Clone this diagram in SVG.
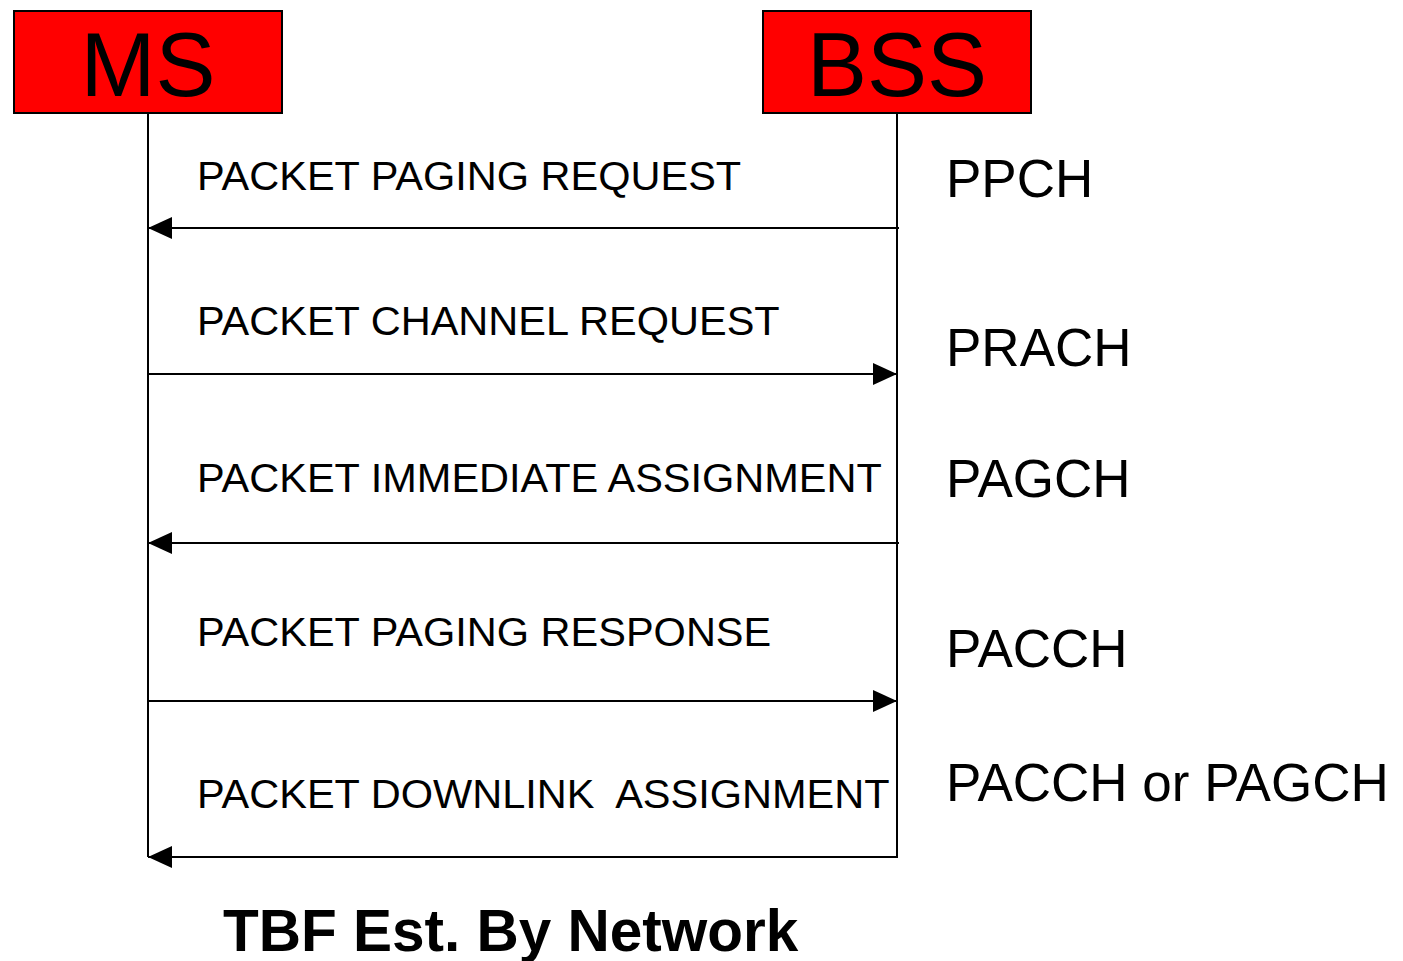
<svg xmlns="http://www.w3.org/2000/svg" width="1403" height="961" viewBox="0 0 1403 961">
  <style>
    .box { fill: #ff0000; stroke: #000; stroke-width: 2; }
    .life { stroke: #000; stroke-width: 2; fill: none; }
    .msg { stroke: #000; stroke-width: 2; fill: none; }
    .head { font-family: "Liberation Sans", Arial, sans-serif; font-size: 90px; fill: #000; text-anchor: middle; }
    .lbl { font-family: "Liberation Sans", Arial, sans-serif; font-size: 41.5px; fill: #000; white-space: pre; }
    .ch { font-family: "Liberation Sans", Arial, sans-serif; font-size: 53px; fill: #000; }
    .title { font-family: "Liberation Sans", Arial, sans-serif; font-size: 58.5px; font-weight: bold; fill: #000; }
  </style>
  <defs>
    <marker id="arrow" markerUnits="userSpaceOnUse" markerWidth="24" markerHeight="22" refX="24" refY="11" orient="auto">
      <path d="M0,0 L24,11 L0,22 Z" fill="#000"/>
    </marker>
  </defs>
  <rect width="1403" height="961" fill="#fff"/>

  <g id="ms">
    <rect class="box" x="14" y="11" width="268" height="102"/>
    <text class="head" x="148" y="96">MS</text>
    <line class="life" x1="148" y1="113" x2="148" y2="857"/>
  </g>

  <g id="bss">
    <rect class="box" x="763" y="11" width="268" height="102"/>
    <text class="head" x="897" y="96">BSS</text>
    <line class="life" x1="897" y1="113" x2="897" y2="857"/>
  </g>

  <g id="connectors">
    <line class="msg" x1="899" y1="228" x2="148" y2="228" marker-end="url(#arrow)"/>
    <line class="msg" x1="148" y1="374" x2="897" y2="374" marker-end="url(#arrow)"/>
    <line class="msg" x1="899" y1="543" x2="148" y2="543" marker-end="url(#arrow)"/>
    <line class="msg" x1="148" y1="701" x2="897" y2="701" marker-end="url(#arrow)"/>
    <line class="msg" x1="898" y1="857" x2="148" y2="857" marker-end="url(#arrow)"/>
  </g>

  <g id="messages">
    <text class="lbl" x="197" y="190">PACKET PAGING REQUEST</text>
    <text class="lbl" x="197" y="335">PACKET CHANNEL REQUEST</text>
    <text class="lbl" x="197" y="492">PACKET IMMEDIATE ASSIGNMENT</text>
    <text class="lbl" x="197" y="646">PACKET PAGING RESPONSE</text>
    <text class="lbl" x="197" y="808" xml:space="preserve">PACKET DOWNLINK  ASSIGNMENT</text>
  </g>

  <g id="channels">
    <text class="ch" x="946" y="197">PPCH</text>
    <text class="ch" x="946" y="366">PRACH</text>
    <text class="ch" x="946" y="497">PAGCH</text>
    <text class="ch" x="946" y="667">PACCH</text>
    <text class="ch" x="946" y="801">PACCH or PAGCH</text>
  </g>

  <text class="title" x="223" y="951">TBF Est. By Network</text>
</svg>
